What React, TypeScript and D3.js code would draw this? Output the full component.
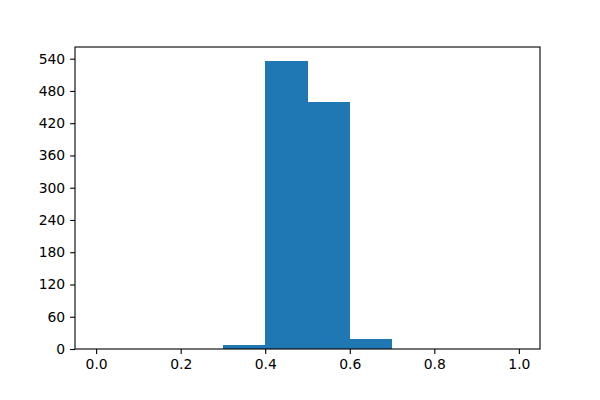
import { useEffect, useRef } from "react";
import * as d3 from "d3";

// histogram bins (edges) and counts
const binEdges = [0, 0.1, 0.2, 0.3, 0.4, 0.5, 0.6, 0.7, 0.8, 0.9, 1.0];
const counts = [0, 0, 0, 7, 535, 460, 18, 0, 0, 0];
const xTicks = [0, 0.2, 0.4, 0.6, 0.8, 1.0];
const yTicks = [0, 60, 120, 180, 240, 300, 360, 420, 480, 540];

const App = () => {
  const svgRef = useRef<SVGSVGElement>(null);

  useEffect(() => {
    const width = 600;
    const height = 400;
    const margin = { top: 47, right: 60, bottom: 51, left: 75 };

    const svg = d3.select(svgRef.current);
    svg.selectAll("*").remove();

    const x = d3.scaleLinear()
      .domain([-0.05, 1.05])
      .range([margin.left, width - margin.right]);

    const yMax = d3.max(counts)! * 1.05;
    const y = d3.scaleLinear()
      .domain([0, yMax])
      .range([height - margin.bottom, margin.top]);

    const bins = counts.map((c, i) => ({ x0: binEdges[i], x1: binEdges[i + 1], c }));

    svg.append("g")
      .attr("fill", "#1f77b4")
      .attr("shape-rendering", "crispEdges")
      .selectAll("rect")
      .data(bins.filter((d) => d.c > 0))
      .join("rect")
      .attr("x", (d) => x(d.x0))
      .attr("width", (d) => x(d.x1) - x(d.x0))
      .attr("y", (d) => y(d.c))
      .attr("height", (d) => y(0) - y(d.c));

    const fmtX = d3.format(".1f");

    svg.append("g")
      .attr("transform", `translate(0,${height - margin.bottom})`)
      .call(d3.axisBottom(x).tickValues(xTicks).tickFormat((d) => fmtX(d as number)).tickSize(4.9).tickPadding(4.9).tickSizeOuter(0))
      .call((g) => g.select(".domain").remove())
      .call((g) => g.selectAll("text").attr("font-size", 13.9).attr("fill", "#000"))
      .call((g) => g.selectAll("line").attr("stroke", "#000").attr("stroke-width", 1.1));

    svg.append("g")
      .attr("transform", `translate(${margin.left},0)`)
      .call(d3.axisLeft(y).tickValues(yTicks).tickSize(4.9).tickPadding(4.9).tickSizeOuter(0))
      .call((g) => g.select(".domain").remove())
      .call((g) => g.selectAll("text").attr("font-size", 13.9).attr("fill", "#000"))
      .call((g) => g.selectAll("line").attr("stroke", "#000").attr("stroke-width", 1.1));

    svg.selectAll("g.tick text").attr("font-family", "DejaVu Sans");

    svg.append("rect")
      .attr("x", margin.left)
      .attr("y", margin.top)
      .attr("width", width - margin.left - margin.right)
      .attr("height", height - margin.top - margin.bottom)
      .attr("fill", "none")
      .attr("stroke", "#000")
      .attr("stroke-width", 1.1);
  }, []);

  return (
    <svg
      ref={svgRef}
      width={600}
      height={400}
      style={{ position: "absolute", left: 0, top: 0, background: "#fff" }}
    ></svg>
  );
};

export default App;
